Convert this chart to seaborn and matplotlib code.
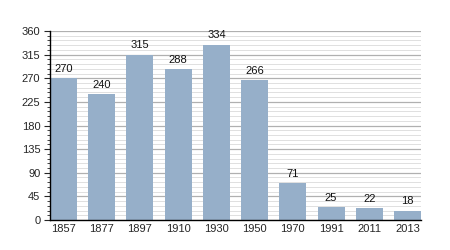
import matplotlib
matplotlib.use("Agg")
import matplotlib.pyplot as plt
import seaborn as sns
import pandas as pd
from matplotlib.ticker import MultipleLocator

years = ["1857", "1877", "1897", "1910", "1930", "1950", "1970", "1991", "2011", "2013"]
values = [270, 240, 315, 288, 334, 266, 71, 25, 22, 18]

sns.set_style("white")
plt.rcParams['font.family'] = ['Liberation Sans', 'DejaVu Sans']

df = pd.DataFrame({"year": years, "value": values})

fig = plt.figure(figsize=(4.5, 2.5), dpi=100)
ax = fig.add_axes([50 / 450, 0.12, 371 / 450, 0.756])

ax.set_ylim(0, 360)
ax.yaxis.set_major_locator(MultipleLocator(45))
ax.yaxis.set_minor_locator(MultipleLocator(9))
ax.grid(True, which="major", axis="y", color="#b0b0b0", linewidth=0.9, zorder=0)
ax.grid(True, which="minor", axis="y", color="#e0e0e0", linewidth=0.7, zorder=0)
ax.set_axisbelow(True)

sns.barplot(data=df, x="year", y="value", color="#96afc9", saturation=1,
            width=0.7, linewidth=0, ax=ax, zorder=2)

for i, v in enumerate(values):
    ax.text(i, v + 8, str(v), ha="center", va="bottom", fontsize=8, color="#111111")

ax.set_xlim(-0.35, len(years) - 0.65)
ax.set_xlabel("")
ax.set_ylabel("")
for s in ["top", "right"]:
    ax.spines[s].set_visible(False)
ax.spines["left"].set_color("black")
ax.spines["bottom"].set_color("black")
ax.spines["left"].set_linewidth(1)
ax.spines["bottom"].set_linewidth(1)
ax.tick_params(axis="y", which="major", length=4, width=0.8, left=True, labelsize=8, pad=3)
ax.tick_params(axis="y", which="minor", length=2, width=0.6, left=True)
ax.tick_params(axis="x", length=0, labelsize=8, pad=3)

fig.savefig("out.png", dpi=100)
